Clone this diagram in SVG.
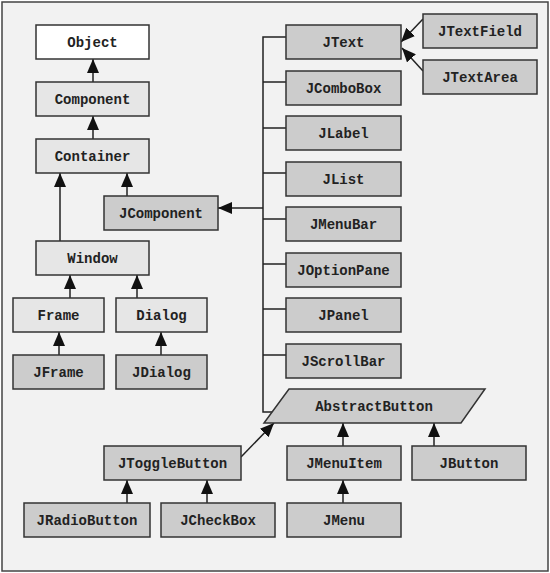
<svg xmlns="http://www.w3.org/2000/svg" width="550" height="573" viewBox="0 0 550 573">
<defs>
<marker id="arr" viewBox="0 0 14 12" refX="14" refY="6" markerWidth="14" markerHeight="12" markerUnits="userSpaceOnUse" orient="auto">
<path d="M0,0 L14,6 L0,12 Z" fill="#111"/>
</marker>
</defs>
<style>
.box{stroke:#333;stroke-width:1.5}
.w{fill:#ffffff}
.l{fill:#e6e6e6}
.d{fill:#cccccc}
text{font-family:"Liberation Mono","Courier New",monospace;font-weight:bold;font-size:14px;fill:#222;text-anchor:middle}
.c{fill:none;stroke:#222;stroke-width:1.5}
.a{fill:none;stroke:#222;stroke-width:1.5;marker-end:url(#arr)}
</style>
<rect x="2" y="2" width="546" height="569" fill="#f2f2f2" stroke="#444" stroke-width="1.5"/>
<g id="connectors">
<polyline class="c" points="286,37 263,37 263,412 272,412"/>
<line class="c" x1="263" y1="82" x2="286" y2="82"/>
<line class="c" x1="263" y1="128" x2="286" y2="128"/>
<line class="c" x1="263" y1="173" x2="286" y2="173"/>
<line class="c" x1="263" y1="219" x2="286" y2="219"/>
<line class="c" x1="263" y1="264" x2="286" y2="264"/>
<line class="c" x1="263" y1="309" x2="286" y2="309"/>
<line class="c" x1="263" y1="355" x2="286" y2="355"/>
<line class="a" x1="263" y1="208" x2="218" y2="208"/>
<line class="a" x1="93" y1="82" x2="93" y2="59"/>
<line class="a" x1="93" y1="139" x2="93" y2="116"/>
<line class="a" x1="60" y1="241" x2="60" y2="173"/>
<line class="a" x1="127" y1="196" x2="127" y2="173"/>
<line class="a" x1="70" y1="298" x2="70" y2="275"/>
<line class="a" x1="137" y1="298" x2="137" y2="275"/>
<line class="a" x1="59" y1="355" x2="59" y2="332"/>
<line class="a" x1="161" y1="355" x2="161" y2="332"/>
<line class="a" x1="423" y1="19" x2="401" y2="42"/>
<line class="a" x1="423" y1="71" x2="402" y2="48"/>
<line class="a" x1="241" y1="457" x2="274" y2="423"/>
<line class="a" x1="343" y1="446" x2="343" y2="423"/>
<line class="a" x1="434" y1="446" x2="434" y2="423"/>
<line class="a" x1="127" y1="503" x2="127" y2="480"/>
<line class="a" x1="207" y1="503" x2="207" y2="480"/>
<line class="a" x1="343" y1="503" x2="343" y2="480"/>
</g>
<g id="Object"><rect class="box w" x="36" y="25" width="113" height="34"/><text x="92.5" y="47">Object</text></g>
<g id="Component"><rect class="box l" x="36" y="82" width="113" height="34"/><text x="92.5" y="104">Component</text></g>
<g id="Container"><rect class="box l" x="36" y="139" width="113" height="34"/><text x="92.5" y="161">Container</text></g>
<g id="JComponent"><rect class="box d" x="104" y="196" width="114" height="34"/><text x="161" y="218">JComponent</text></g>
<g id="Window"><rect class="box l" x="36" y="241" width="113" height="34"/><text x="92.5" y="263">Window</text></g>
<g id="Frame"><rect class="box l" x="13" y="298" width="91" height="34"/><text x="58.5" y="320">Frame</text></g>
<g id="Dialog"><rect class="box l" x="116" y="298" width="91" height="34"/><text x="161.5" y="320">Dialog</text></g>
<g id="JFrame"><rect class="box d" x="13" y="355" width="91" height="34"/><text x="58.5" y="377">JFrame</text></g>
<g id="JDialog"><rect class="box d" x="116" y="355" width="91" height="34"/><text x="161.5" y="377">JDialog</text></g>
<g id="JText"><rect class="box d" x="286" y="25" width="115" height="34"/><text x="343.5" y="47">JText</text></g>
<g id="JComboBox"><rect class="box d" x="286" y="71" width="115" height="34"/><text x="343.5" y="93">JComboBox</text></g>
<g id="JLabel"><rect class="box d" x="286" y="116" width="115" height="34"/><text x="343.5" y="138">JLabel</text></g>
<g id="JList"><rect class="box d" x="286" y="162" width="115" height="34"/><text x="343.5" y="184">JList</text></g>
<g id="JMenuBar"><rect class="box d" x="286" y="207" width="115" height="34"/><text x="343.5" y="229">JMenuBar</text></g>
<g id="JOptionPane"><rect class="box d" x="286" y="253" width="115" height="34"/><text x="343.5" y="275">JOptionPane</text></g>
<g id="JPanel"><rect class="box d" x="286" y="298" width="115" height="34"/><text x="343.5" y="320">JPanel</text></g>
<g id="JScrollBar"><rect class="box d" x="286" y="344" width="115" height="34"/><text x="343.5" y="366">JScrollBar</text></g>
<g id="JTextField"><rect class="box d" x="423" y="14" width="114" height="34"/><text x="480" y="36">JTextField</text></g>
<g id="JTextArea"><rect class="box d" x="423" y="60" width="114" height="34"/><text x="480" y="82">JTextArea</text></g>
<g id="AbstractButton"><polygon class="box d" points="289,389 485,389 461,423 264,423"/><text x="374" y="411">AbstractButton</text></g>
<g id="JToggleButton"><rect class="box d" x="104" y="446" width="137" height="34"/><text x="172.5" y="468">JToggleButton</text></g>
<g id="JMenuItem"><rect class="box d" x="287" y="446" width="114" height="34"/><text x="344" y="468">JMenuItem</text></g>
<g id="JButton"><rect class="box d" x="412" y="446" width="114" height="34"/><text x="469" y="468">JButton</text></g>
<g id="JRadioButton"><rect class="box d" x="24" y="503" width="126" height="34"/><text x="87" y="525">JRadioButton</text></g>
<g id="JCheckBox"><rect class="box d" x="161" y="503" width="114" height="34"/><text x="218" y="525">JCheckBox</text></g>
<g id="JMenu"><rect class="box d" x="287" y="503" width="114" height="34"/><text x="344" y="525">JMenu</text></g>
</svg>
